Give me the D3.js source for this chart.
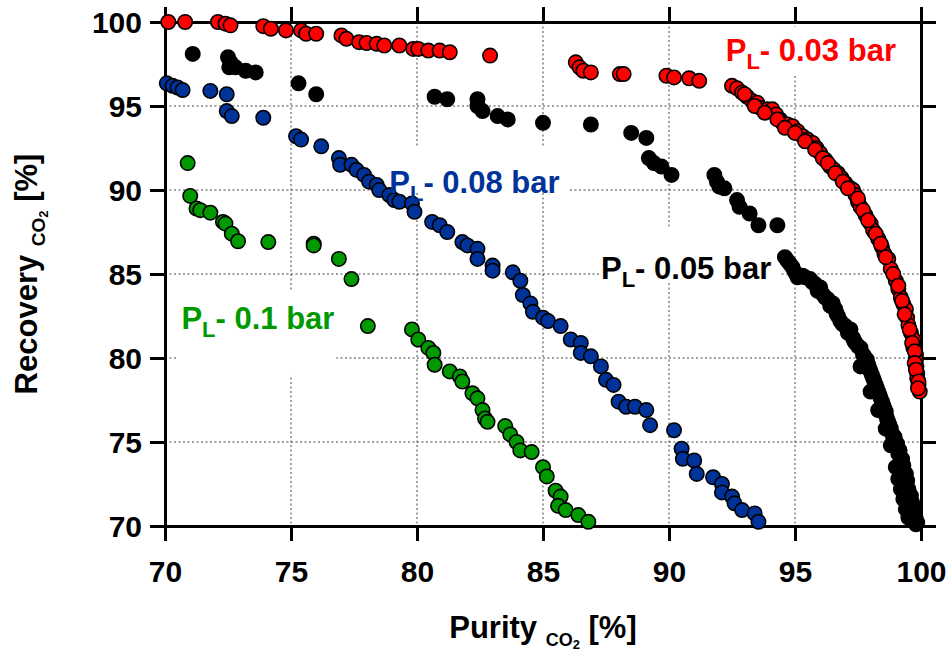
<!DOCTYPE html>
<html>
<head>
<meta charset="utf-8">
<script src="https://cdn.jsdelivr.net/npm/d3@7"></script>
<style>
  html, body { margin: 0; padding: 0; background: #fff; }
  svg { display: block; font-family: "Liberation Sans", Arial, sans-serif; }
</style>
</head>
<body>
<svg id="chart" width="951" height="651"></svg>
<script>
// ---------- DATA ----------
const xTicks = [70, 75, 80, 85, 90, 95, 100];
const yTicks = [70, 75, 80, 85, 90, 95, 100];

const seriesNames = ["PL 0.03 bar", "PL 0.05 bar", "PL 0.08 bar", "PL 0.1 bar"];
const seriesColors = ["#ff0000", "#000000", "#003399", "#009900"];

const redPurity = [70.13,70.8,72.1,72.4,72.6,73.9,74.2,74.8,75.4,75.6,76.0,77.0,77.2,77.7,78.0,78.4,78.7,79.3,79.85,80.05,80.45,80.9,81.3,82.9,
  86.3,86.45,86.6,86.9,88.05,88.2,89.9,90.2,90.8,91.2,
  92.5,92.7,92.9,93.1,93.3,93.5,93.6,93.9,94.1,94.25,94.4,94.5,94.7,94.9,95.1,95.3,95.5,95.7,95.85,96.0,96.2,96.4,96.55,96.7,96.85,97.0,97.2,97.3,97.4,97.5,97.6,97.8,98.0,98.1,98.3,98.45,98.55,98.7,98.8,99.0,99.1,99.2,99.3,99.4,99.45,99.5,99.6,99.7,99.7,99.8,99.8,99.82,99.85,99.85,99.9,99.95,
  93.0,93.4,93.8,94.3,94.6,95.0,95.4,95.8,96.1,96.3,96.6,96.9,97.1,97.5,97.7,97.9,98.2,98.4,98.6,98.9,99.1,99.25,99.35,99.55,99.65,99.75,99.75,99.8,99.9,99.88];
const redRecovery = [100,100,100,99.9,99.8,99.75,99.6,99.5,99.5,99.3,99.3,99.2,99.0,98.8,98.75,98.7,98.6,98.6,98.4,98.4,98.3,98.3,98.2,98.0,
  97.6,97.3,97.1,97.0,96.9,96.9,96.8,96.7,96.65,96.5,
  96.2,96.05,95.8,95.55,95.3,95.2,94.9,94.8,94.8,94.5,94.2,94.0,93.9,93.8,93.5,93.2,93.0,92.8,92.5,92.2,91.8,91.4,91.2,91.0,90.7,90.4,90.1,90.0,89.7,89.3,89.0,88.5,88.0,87.6,87.1,86.6,86.2,85.9,85.3,84.6,84.1,83.6,83.2,82.9,82.4,81.96,81.5,81.1,80.6,80.2,79.9,79.5,79.1,78.8,78.4,78.0,
  95.7,95.0,94.6,94.2,93.7,93.4,92.9,92.4,91.9,91.6,91.0,90.5,90.1,89.5,88.8,88.2,87.4,86.8,86.0,85.0,84.3,83.4,82.6,81.7,80.9,80.4,79.7,79.3,78.6,78.2];

const blackPurity = [71.1,72.5,72.6,72.55,72.8,73.2,73.6,75.3,76.0,80.7,81.2,82.4,82.4,82.6,83.2,83.6,85.0,86.9,88.5,89.1,89.2,89.4,89.7,90.1,91.8,91.9,92.0,92.2,92.7,92.8,93.2,93.55,94.3,
  94.6,94.8,94.9,95.1,95.4,95.6,95.8,96.0,96.1,96.3,96.5,96.6,96.65,96.8,97.0,97.2,97.3,97.4,97.6,97.7,97.85,97.9,98.0,98.1,98.2,98.3,98.4,98.5,98.6,98.65,98.75,98.85,98.9,99.0,99.1,99.2,99.3,99.35,99.4,99.5,99.55,99.6,99.65,99.7,99.75,99.8,
  94.7,95.0,95.3,95.7,95.9,96.2,96.4,96.7,96.9,97.1,97.35,97.5,97.75,97.95,98.05,98.15,98.25,98.35,98.45,98.55,98.6,98.7,98.8,98.95,99.05,99.15,99.25,99.3,99.4,99.45,99.5,99.6,99.65,99.7,99.75,99.8,99.85,
  99.0,99.1,99.2,99.3,99.4,99.5,98.6,98.8,98.3,98.0,97.6];
const blackRecovery = [98.1,97.9,97.6,97.3,97.3,97.1,97.0,96.35,95.7,95.55,95.4,95.4,95.0,94.7,94.4,94.2,94.0,93.9,93.4,93.1,91.9,91.6,91.4,90.9,90.9,90.5,90.2,90.1,89.4,89.0,88.6,87.9,87.9,
  86.0,85.6,85.4,84.8,84.8,84.7,84.4,84.2,83.8,83.5,83.25,82.9,82.65,82.2,81.9,81.7,81.2,80.9,80.6,80.2,79.9,79.6,79.2,78.8,78.4,78.0,77.6,77.2,76.8,76.4,76.0,75.5,75.1,74.7,74.3,73.8,73.3,72.9,72.4,72.0,71.6,71.2,70.9,70.6,70.3,70.1,
  85.8,85.1,84.9,84.5,84.0,83.6,83.1,82.5,82.0,81.5,81.0,80.7,80.1,79.4,79.0,78.6,78.2,77.8,77.4,77.0,76.6,76.2,75.8,75.3,74.9,74.5,74.0,73.6,73.1,72.7,72.2,71.8,71.4,71.0,70.7,70.4,70.2,
  73.5,72.8,72.2,71.6,71.0,70.5,75.8,74.8,76.9,78.0,79.5];

const bluePurity = [70.07,70.3,70.5,70.7,71.8,72.45,72.45,72.65,73.9,75.2,75.4,76.2,76.9,76.95,77.4,77.6,77.9,78.1,78.4,78.5,78.9,79.1,79.3,79.8,79.9,80.6,80.9,81.2,81.8,82.0,82.4,82.4,83.0,83.0,83.8,84.1,84.2,84.5,84.6,85.0,85.2,85.7,86.1,86.5,86.5,86.9,87.3,87.5,87.8,88.0,88.3,88.65,89.1,89.25,90.2,90.5,90.55,91.0,91.1,91.75,92.1,92.1,92.5,92.6,92.9,93.4,93.55];
const blueRecovery = [96.35,96.2,96.1,95.95,95.9,95.7,94.7,94.4,94.3,93.2,93.0,92.6,91.9,91.5,91.5,91.2,90.9,90.5,90.3,90.0,89.7,89.4,89.3,89.2,88.7,88.1,87.9,87.5,86.9,86.7,86.5,85.9,85.5,85.2,85.1,84.6,83.75,83.25,82.75,82.4,82.2,81.9,81.1,80.9,80.3,80.1,79.5,78.7,78.4,77.4,77.1,77.1,76.9,76.0,75.7,74.6,74.0,73.9,73.1,72.9,72.5,72.0,71.75,71.35,70.95,70.75,70.25];

const greenPurity = [70.9,71.0,71.25,71.4,71.8,72.3,72.4,72.65,72.9,74.1,75.9,75.9,76.9,77.4,78.05,79.8,80.05,80.45,80.65,80.7,81.3,81.7,81.8,82.2,82.4,82.6,82.7,82.8,83.5,83.7,83.95,84.1,84.55,85.0,85.15,85.5,85.7,85.6,85.9,86.4,86.8];
const greenRecovery = [91.6,89.65,88.9,88.8,88.65,88.1,88.0,87.4,86.95,86.9,86.8,86.7,85.9,84.7,81.9,81.7,81.1,80.6,80.3,79.6,79.2,78.9,78.6,77.9,77.6,76.9,76.4,76.2,75.95,75.45,75.0,74.5,74.4,73.5,72.95,72.1,71.75,71.2,70.95,70.65,70.25];

const labelValues = ["0.03", "0.05", "0.08", "0.1"];

// ---------- LAYOUT ----------
const svg = d3.select("#chart");
const mLeft = 165, mRight = 921, mTop = 22, mBottom = 526;
const x = d3.scaleLinear().domain([70, 100]).range([mLeft, mRight]);
const y = d3.scaleLinear().domain([70, 100]).range([mBottom, mTop]);

// gridlines
const grid = svg.append("g");
grid.selectAll("line.v").data(xTicks.slice(1, -1)).join("line")
  .attr("x1", d => x(d)).attr("x2", d => x(d)).attr("y1", mTop).attr("y2", mBottom)
  .attr("stroke", "#444").attr("stroke-width", 1).attr("stroke-dasharray", "2,2.5");
grid.selectAll("line.h").data(yTicks.slice(1, -1)).join("line")
  .attr("x1", mLeft).attr("x2", mRight).attr("y1", d => y(d)).attr("y2", d => y(d))
  .attr("stroke", "#444").attr("stroke-width", 1).attr("stroke-dasharray", "2,2.5");

// white label boxes (hide grid behind labels) - in data units
const boxes = [
  {x0: 92.0, x1: 99.2, y0: 99.7, y1: 96.9},
  {x0: 87.3, x1: 94.4, y0: 87.8, y1: 84.6},
  {x0: 78.7, x1: 86.0, y0: 92.6, y1: 89.9},
  {x0: 70.5, x1: 76.8, y0: 84.0, y1: 79.0}
];
svg.append("g").selectAll("rect").data(boxes).join("rect")
  .attr("x", d => x(d.x0)).attr("y", d => y(d.y0))
  .attr("width", d => x(d.x1) - x(d.x0)).attr("height", d => y(d.y1) - y(d.y0))
  .attr("fill", "#fff");

// axes
function styleAxis(g) {
  g.select(".domain").attr("stroke", "#000").attr("stroke-width", 3);
  g.selectAll(".tick line").attr("stroke", "#000").attr("stroke-width", 3);
}
const gx = svg.append("g").attr("transform", `translate(0,${mBottom})`)
  .call(d3.axisBottom(x).tickValues(xTicks).tickSize(15).tickSizeOuter(0));
styleAxis(gx);
gx.selectAll("text").attr("y", 56).attr("dy", null)
  .attr("font-size", 30).attr("font-weight", "bold").attr("fill", "#000")
  .attr("font-family", "Liberation Sans, Arial, sans-serif");

const gy = svg.append("g").attr("transform", `translate(${mLeft},0)`)
  .call(d3.axisLeft(y).tickValues(yTicks).tickSize(15).tickSizeOuter(0));
styleAxis(gy);
gy.selectAll("text").attr("x", -23).attr("dy", "0.36em")
  .attr("font-size", 30).attr("font-weight", "bold").attr("fill", "#000")
  .attr("font-family", "Liberation Sans, Arial, sans-serif");

const gt = svg.append("g").attr("transform", `translate(0,${mTop})`)
  .call(d3.axisTop(x).tickValues(xTicks).tickSize(15).tickSizeOuter(0).tickFormat(""));
styleAxis(gt);
const gr = svg.append("g").attr("transform", `translate(${mRight},0)`)
  .call(d3.axisRight(y).tickValues(yTicks).tickSize(15).tickSizeOuter(0).tickFormat(""));
styleAxis(gr);

// points
const series = [
  {p: blackPurity, r: blackRecovery, c: seriesColors[1]},
  {p: bluePurity, r: blueRecovery, c: seriesColors[2]},
  {p: greenPurity, r: greenRecovery, c: seriesColors[3]},
  {p: redPurity, r: redRecovery, c: seriesColors[0]}
];
series.forEach(s => {
  const pts = s.p.map((v, i) => [v, s.r[i]]);
  svg.append("g").selectAll("circle").data(pts).join("circle")
    .attr("cx", d => x(d[0])).attr("cy", d => y(d[1])).attr("r", 7.2)
    .attr("fill", s.c).attr("stroke", "#000").attr("stroke-width", 1.6);
});

// series labels
const labels = [
  {px: 92.25, py: 97.68, c: seriesColors[0], v: labelValues[0]},
  {px: 87.3, py: 84.72, c: seriesColors[1], v: labelValues[1]},
  {px: 78.9, py: 89.8, c: seriesColors[2], v: labelValues[2]},
  {px: 70.65, py: 81.74, c: seriesColors[3], v: labelValues[3]}
];
labels.forEach(l => {
  const t = svg.append("text").attr("x", x(l.px)).attr("y", y(l.py))
    .attr("fill", l.c).attr("font-size", 31).attr("font-weight", "bold");
  t.append("tspan").text("P");
  t.append("tspan").attr("dy", 8).attr("font-size", 22).text("L");
  t.append("tspan").attr("dy", -8).text("- " + l.v + " bar");
});

// axis titles
const xt = svg.append("text").attr("x", (mLeft + mRight) / 2).attr("y", 638)
  .attr("text-anchor", "middle").attr("font-size", 31).attr("font-weight", "bold");
xt.append("tspan").text("Purity ");
xt.append("tspan").attr("font-size", 18).attr("dy", 8).text("CO");
xt.append("tspan").attr("font-size", 13).attr("dy", 3).text("2");
xt.append("tspan").attr("dy", -11).text(" [%]");

const yt = svg.append("text")
  .attr("transform", `translate(37,${(mTop + mBottom) / 2}) rotate(-90)`)
  .attr("text-anchor", "middle").attr("font-size", 31).attr("font-weight", "bold");
yt.append("tspan").text("Recovery ");
yt.append("tspan").attr("font-size", 19).attr("dy", 8).text("CO");
yt.append("tspan").attr("font-size", 13).attr("dy", 3).text("2");
yt.append("tspan").attr("dy", -11).text(" [%]");
</script>
</body>
</html>
